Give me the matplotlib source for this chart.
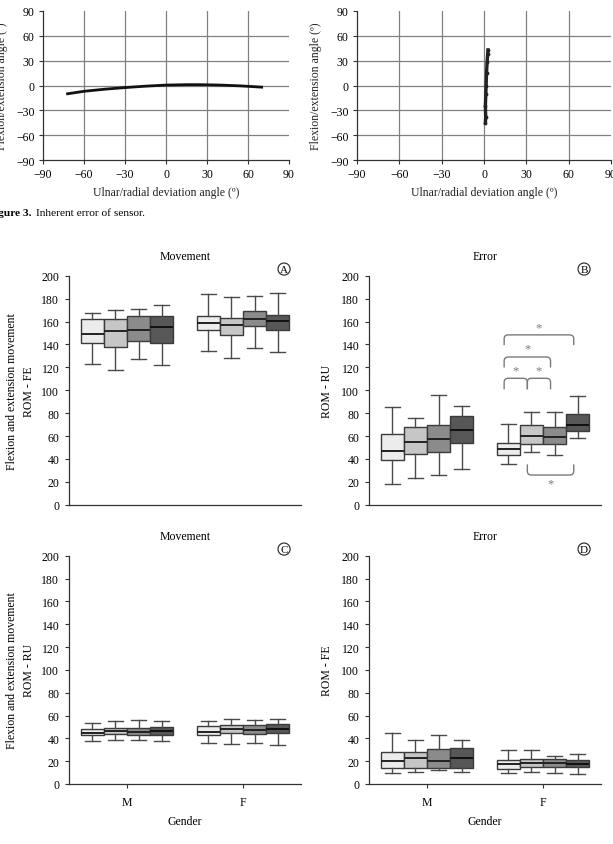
import matplotlib.pyplot as plt
from matplotlib.path import Path
from matplotlib.patches import PathPatch

plt.rcParams['font.family'] = ['Liberation Serif', 'DejaVu Serif']
plt.rcParams['font.size'] = 8

# --- Figure 3 traces (sensor inherent error) ---
rud_x = [-72, -60, -45, -30, -15, 0, 15, 25, 40, 55, 70]
rud_y = [-10, -7, -4.5, -2.5, -0.8, 0.5, 1, 1, 0.5, -0.5, -2]
fe_x = [1.0, 1.2, 1.0, 1.3, 1.5, 1.8, 2.2, 2.6, 2.8]
fe_y = [-45, -38, -25, -10, 0, 15, 28, 38, 43]
angle_ticks = [-90, -60, -30, 0, 30, 60, 90]

# --- Figure 4 box stats: [whislo, q1, med, q3, whishi] per group ---
genders = ['M', 'F']
A_M = [[123, 141, 149, 162, 167], [118, 138, 151.5, 162, 170],
       [127, 143, 153, 165, 171], [122, 141, 155, 165, 174]]
A_F = [[134, 152.8, 159, 165, 184], [128, 148, 157, 162.7, 181],
       [137, 155.7, 162.5, 169, 182], [133, 153, 160.4, 166, 185]]
B_M = [[17.7, 38.7, 47, 62, 85], [23, 44.5, 55, 67.6, 76],
       [26, 46.3, 57, 69.3, 96], [31.4, 53.9, 65, 77.2, 86]]
B_F = [[35.2, 43.4, 49, 53.9, 70.2], [46.3, 53.3, 60, 69.3, 81.3],
       [43.7, 53, 59, 68.2, 81.3], [58.5, 64.7, 69.6, 79.5, 94.7]]
C_M = [[37.6, 42.8, 44.8, 48.6, 53.6], [38.4, 43.4, 46, 49.2, 54.8],
       [38.4, 42.8, 45.7, 48.9, 56.2], [37.8, 42.8, 46.3, 49.8, 55.3]]
C_F = [[35.5, 42.8, 45.7, 50.7, 55.3], [35.2, 44.8, 47.8, 51.8, 56.8],
       [35.8, 44, 47.2, 51.5, 55.9], [34.3, 44.8, 48.3, 52.7, 56.8]]
D_M = [[9.3, 14.2, 20.3, 28.2, 44.8], [10.1, 14.2, 23, 28.2, 38.7],
       [11.9, 13.6, 20.3, 30.8, 42.8], [10.1, 13.9, 22.4, 31.4, 38.7]]
D_F = [[9.3, 13.4, 17.1, 20.9, 29.4], [10.1, 14.8, 18, 21.8, 30],
       [9.6, 15.1, 18.3, 21.5, 24.4], [8.7, 14.5, 17.4, 20.6, 26.5]]

# significance brackets in panel B (F group): (box_a, box_b, leg end, bar, star)
sig_brackets = [(0, 3, 139.3, 148.3, 154.7), (0, 2, 119.8, 129, 136.4),
                (0, 1, 100.8, 110.4, 117.4), (1, 2, 100.8, 110.4, 117.4),
                (1, 3, 35.2, 25.9, 18.6)]

box_colors = ['#ececec', '#c6c6c6', '#8b8b8b', '#575757']
dark = '#333333'

fig = plt.figure(figsize=(6.13, 8.45), dpi=100)
W, H = 613.0, 845.0


def add_ax(left, top, right, bottom):
    return fig.add_axes([left / W, 1 - bottom / H, (right - left) / W, (bottom - top) / H])


def style_angle(ax):
    ax.set_xlim(-90, 90)
    ax.set_ylim(-90, 90)
    ax.set_xticks(angle_ticks)
    ax.set_yticks(angle_ticks)
    for t in angle_ticks[1:-1]:
        ax.axvline(t, color='#808080', lw=0.9, zorder=0)
        ax.axhline(t, color='#808080', lw=0.9, zorder=0)
    for s in ['top', 'right']:
        ax.spines[s].set_visible(False)
    for s in ['left', 'bottom']:
        ax.spines[s].set_color(dark)
        ax.spines[s].set_linewidth(0.9)
    ax.tick_params(direction='out', length=3, width=0.8, color=dark, labelsize=8.5, pad=3)
    ax.set_xlabel('Ulnar/radial deviation angle (º)', fontsize=8.5, labelpad=4, color='#222')
    ax.set_ylabel('Flexion/extension angle (º)', fontsize=8.5, labelpad=6, color='#222')


ax1 = add_ax(43, 12, 289, 161)
style_angle(ax1)
ax1.plot(rud_x, rud_y, color='#111', lw=2)

ax2 = add_ax(357, 12, 611, 161)
style_angle(ax2)
ax2.plot(fe_x, fe_y, color='#222', lw=2.4, marker='.', ms=3.5)

fig.text(32 / W, 1 - 213 / H, 'Figure 3.', fontsize=8.2, fontweight='bold', ha='right', va='center')
fig.text(35.5 / W, 1 - 213 / H, 'Inherent error of sensor.', fontsize=8.2, ha='left', va='center')

width = 0.2
group_pos = [0.5, 1.5]
offsets = [-1.5 * width, -0.5 * width, 0.5 * width, 1.5 * width]


def box_panel(ax, data_m, data_f, title, letter, ylabel, label_x, show_x):
    for g, data in zip(group_pos, [data_m, data_f]):
        for k, st in enumerate(data):
            stats = [dict(whislo=st[0], q1=st[1], med=st[2], q3=st[3], whishi=st[4], fliers=[])]
            ax.bxp(stats, positions=[g + offsets[k]], widths=width, capwidths=width * 0.65,
                   patch_artist=True, showfliers=False,
                   boxprops=dict(facecolor=box_colors[k], edgecolor='#3a3a3a', lw=1.0),
                   whiskerprops=dict(color='#4a4a4a', lw=1.0),
                   capprops=dict(color='#4a4a4a', lw=1.0),
                   medianprops=dict(color='#222' if k < 3 else '#111', lw=1.4))
    ax.set_xlim(0, 2)
    ax.set_ylim(0, 200)
    ax.set_yticks(range(0, 201, 20))
    for s in ['top', 'right']:
        ax.spines[s].set_visible(False)
    for s in ['left', 'bottom']:
        ax.spines[s].set_color(dark)
        ax.spines[s].set_linewidth(0.9)
    ax.tick_params(axis='y', direction='out', length=3, width=0.8, color=dark, labelsize=8.5, pad=4)
    if show_x:
        ax.set_xticks(group_pos)
        ax.set_xticklabels(genders)
        ax.tick_params(axis='x', direction='out', length=3, width=0.8, color=dark, labelsize=8.5, pad=6)
        ax.set_xlabel('Gender', fontsize=8.5, labelpad=5)
    else:
        ax.set_xticks([])
    ax.text(0.5, 1.087, title, transform=ax.transAxes, ha='center', va='center', fontsize=8.5)
    ax.text(0.927, 1.029, letter, transform=ax.transAxes, ha='center', va='center', fontsize=8,
            bbox=dict(boxstyle='circle,pad=0.14', fc='white', ec='#222', lw=0.8))
    ax.text(label_x, 0.5, ylabel, transform=ax.transAxes, rotation=90, ha='center', va='center',
            fontsize=8.5, linespacing=1.5)


axA = add_ax(69, 276.7, 301, 505.7)
box_panel(axA, A_M, A_F, 'Movement', 'A', 'Flexion and extension movement\nROM - FE', -0.208, False)
axB = add_ax(369, 276.7, 601, 505.7)
box_panel(axB, B_M, B_F, 'Error', 'B', 'ROM - RU', -0.181, False)
axC = add_ax(69, 556.7, 301, 785)
box_panel(axC, C_M, C_F, 'Movement', 'C', 'Flexion and extension movement\nROM - RU', -0.208, True)
axD = add_ax(369, 556.7, 601, 785)
box_panel(axD, D_M, D_F, 'Error', 'D', 'ROM - FE', -0.181, True)

# significance brackets
rx, ry = 0.035, 3.5
sig_color = '#7a7a7a'
for a, b, y_end, y_bar, y_star in sig_brackets:
    x1 = group_pos[1] + offsets[a] - 0.035
    x2 = group_pos[1] + offsets[b] - 0.035
    s = 1 if y_bar > y_end else -1
    verts = [(x1, y_end), (x1, y_bar - s * ry), (x1, y_bar), (x1 + rx, y_bar),
             (x2 - rx, y_bar), (x2, y_bar), (x2, y_bar - s * ry), (x2, y_end)]
    codes = [Path.MOVETO, Path.LINETO, Path.CURVE3, Path.CURVE3,
             Path.LINETO, Path.CURVE3, Path.CURVE3, Path.LINETO]
    axB.add_patch(PathPatch(Path(verts, codes), fc='none', ec=sig_color, lw=1.0))
    axB.text((x1 + x2) / 2, y_star, '*', ha='center', va='center', fontsize=9, color=sig_color)

fig.savefig('out.png', dpi=100)
